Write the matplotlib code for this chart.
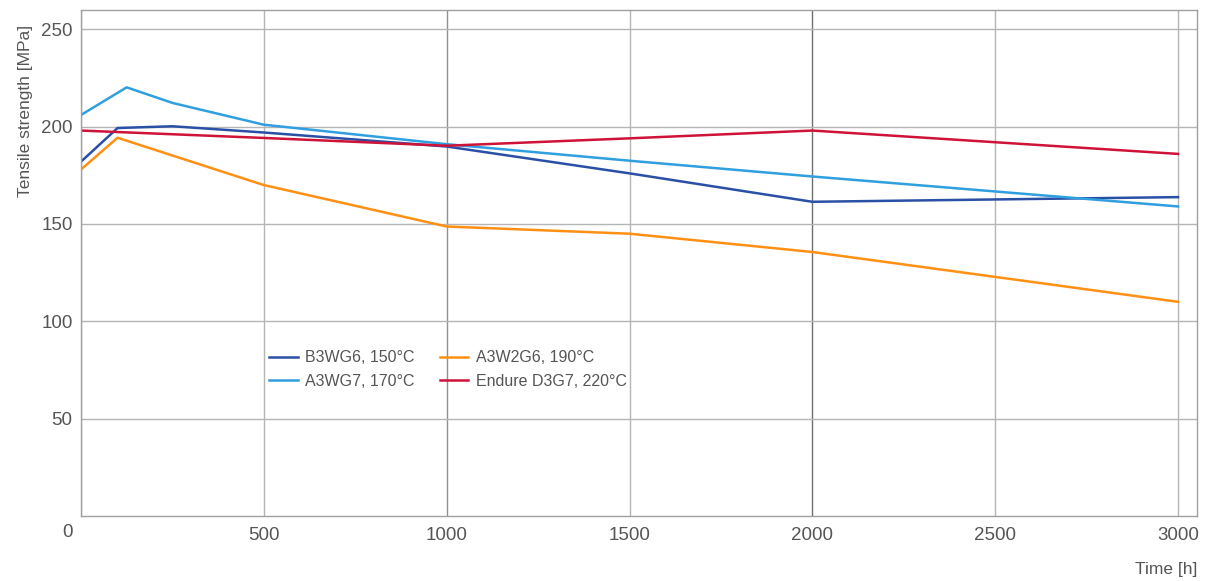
import matplotlib.pyplot as plt
import matplotlib.transforms as mtransforms

# data
t_b3wg6 = [0, 100, 250, 500, 1000, 1500, 2000, 3000]
b3wg6 = [182, 199.3, 200.2, 197, 189.8, 176, 161.4, 163.8]

t_a3wg7 = [0, 125, 250, 500, 1000, 1500, 2000, 3000]
a3wg7 = [206, 220.2, 212.2, 201, 191, 182.5, 174.4, 159]

t_a3w2g6 = [0, 100, 500, 1000, 1500, 2000, 3000]
a3w2g6 = [178, 194.3, 170, 148.7, 145, 135.6, 110]

t_d3g7 = [0, 500, 1000, 1500, 2000, 3000]
d3g7 = [198, 194.2, 190.2, 194, 198, 186]

xticks = [0, 500, 1000, 1500, 2000, 2500, 3000]
yticks = [50, 100, 150, 200, 250]

plt.rcParams['font.family'] = ['Liberation Sans', 'DejaVu Sans']
txt = '#555555'

fig, ax = plt.subplots(figsize=(12.05, 5.81), dpi=100)
fig.subplots_adjust(left=0.0672, right=0.9934, top=0.983, bottom=0.112)

ax.plot(t_b3wg6, b3wg6, color='#2a50a6', lw=1.8, label='B3WG6, 150°C')
ax.plot(t_a3wg7, a3wg7, color='#2f9fe0', lw=1.8, label='A3WG7, 170°C')
ax.plot(t_a3w2g6, a3w2g6, color='#ff9014', lw=1.8, label='A3W2G6, 190°C')
ax.plot(t_d3g7, d3g7, color='#cf1238', lw=1.8, label='Endure D3G7, 220°C')

ax.set_xlim(0, 3052)
ax.set_ylim(0, 260)
ax.set_xticks(xticks)
ax.set_xticklabels([''] + [str(v) for v in xticks[1:]])
ax.set_yticks(yticks)
ax.tick_params(length=0, labelsize=13.5, labelcolor=txt, pad=8)
ax.tick_params(axis='y', pad=6)

ax.grid(True, color='#b5b5b5', lw=1)
ax.set_axisbelow(True)
ax.get_xgridlines()[4].set_color('#707070')
ax.get_xgridlines()[2].set_color('#909090')
for s in ax.spines.values():
    s.set_color('#a0a0a0')
    s.set_linewidth(1)

# origin label sits left of the corner
off = mtransforms.ScaledTranslation(-13 / 100, -8 / 100, fig.dpi_scale_trans)
ax.text(0, 0, '0', transform=ax.transData + off, ha='center', va='top',
        fontsize=13.5, color=txt)

ax.set_ylabel('Tensile strength [MPa]', fontsize=12.5, color=txt)
ax.yaxis.set_label_coords(-0.043, 0.8)
ax.set_xlabel('Time [h]', fontsize=12.5, color=txt, loc='right', labelpad=13)

leg = ax.legend(ncol=2, loc='upper left', bbox_to_anchor=(0.156, 0.356),
                frameon=False, fontsize=11.5, handlelength=1.8, columnspacing=1.55,
                labelspacing=0.55, handletextpad=0.45)
for t in leg.get_texts():
    t.set_color(txt)

fig.savefig('out.png', dpi=100)
